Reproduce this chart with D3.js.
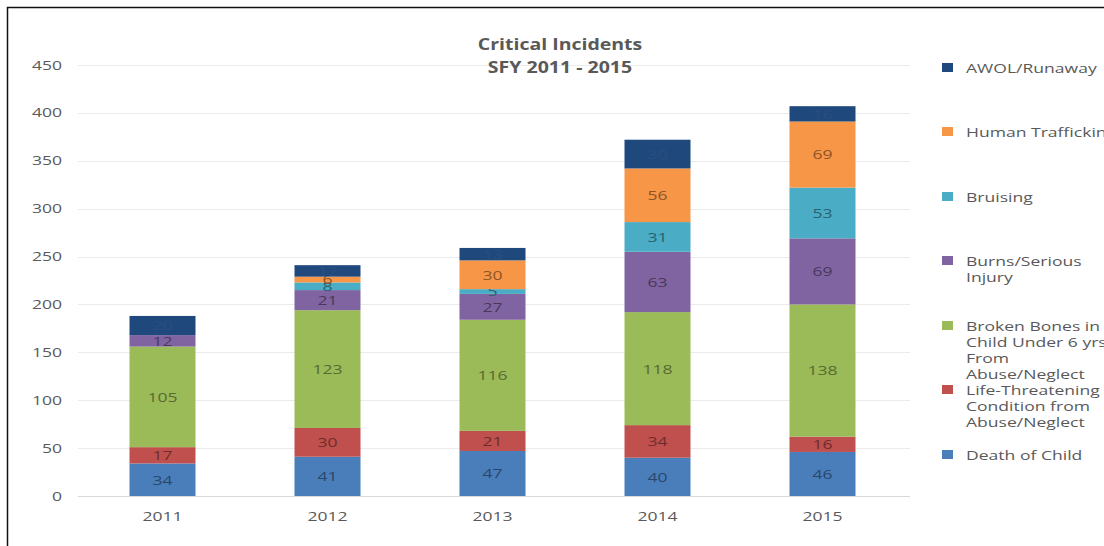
<!DOCTYPE html>
<html>
<head>
<meta charset="utf-8">
<script src="https://cdn.jsdelivr.net/npm/d3@7"></script>
<style>
  body { margin: 0; background: #fff; }
  svg { display: block; font-family: "Open Sans", sans-serif; }
</style>
</head>
<body>
<script>
// data
const years = ["2011", "2012", "2013", "2014", "2015"];
const series = ["Death of Child", "Life-Threatening Condition from Abuse/Neglect",
  "Broken Bones in Child Under 6 yrs. From Abuse/Neglect", "Burns/Serious Injury",
  "Bruising", "Human Trafficking", "AWOL/Runaway"];
const deathOfChild = [34, 41, 47, 40, 46];
const lifeThreatening = [17, 30, 21, 34, 16];
const brokenBones = [105, 123, 116, 118, 138];
const burns = [12, 21, 27, 63, 69];
const bruising = [0, 8, 5, 31, 53];
const trafficking = [0, 6, 30, 56, 69];
const awol = [20, 12, 13, 30, 16];
const yTicks = [0, 50, 100, 150, 200, 250, 300, 350, 400, 450];

// legend lines as wrapped in the original
const legendLines = [
  ["AWOL/Runaway"], ["Human Trafficking"], ["Bruising"], ["Burns/Serious", "Injury"],
  ["Broken Bones in", "Child Under 6 yrs.", "From", "Abuse/Neglect"],
  ["Life-Threatening", "Condition from", "Abuse/Neglect"], ["Death of Child"]
];
const legendY = [68, 132, 197, 261, 326, 390, 455];

const colors = ["#4a7ebb", "#c0504d", "#9bbb59", "#8064a2", "#4bacc6", "#f79646", "#1f497d"];
const values = [deathOfChild, lifeThreatening, brokenBones, burns, bruising, trafficking, awol];

const width = 1104, height = 546;
const sx = 1.35; // the original text is drawn wide
const svg = d3.select("body").append("svg").attr("width", width).attr("height", height);

// frame lines (top and left)
svg.append("line").attr("x1", 7).attr("x2", width).attr("y1", 7.5).attr("y2", 7.5)
  .attr("stroke", "#111").attr("stroke-width", 1.5);
svg.append("line").attr("x1", 7.5).attr("x2", 7.5).attr("y1", 7).attr("y2", height)
  .attr("stroke", "#111").attr("stroke-width", 1.5);

const x = d3.scaleBand().domain(years).range([80, 905]).paddingInner(0.6).paddingOuter(0.3);
const y = d3.scaleLinear().domain([0, 450]).range([496, 65]);

// gridlines
svg.append("g").selectAll("line").data(yTicks).join("line")
  .attr("x1", 78).attr("x2", 910)
  .attr("y1", d => Math.round(y(d)) + 0.5).attr("y2", d => Math.round(y(d)) + 0.5)
  .attr("stroke", d => d === 0 ? "#d9d9d9" : "#ebebeb");

// y labels
svg.append("g").selectAll("text").data(yTicks).join("text")
  .attr("transform", d => `translate(62,${y(d)}) scale(${sx},1)`).attr("dy", "0.35em")
  .attr("text-anchor", "end").attr("font-size", 13).attr("fill", "#595959")
  .text(d => d);

// x labels
svg.append("g").selectAll("text").data(years).join("text")
  .attr("transform", d => `translate(${x(d) + x.bandwidth() / 2},521) scale(${sx},1)`)
  .attr("text-anchor", "middle").attr("font-size", 13).attr("fill", "#595959")
  .text(d => d);

// stack
const rows = years.map((yr, i) => {
  const r = { year: yr };
  series.forEach((s, j) => r[s] = values[j][i]);
  return r;
});
const stacked = d3.stack().keys(series)(rows);

const layer = svg.append("g").selectAll("g").data(stacked).join("g")
  .attr("fill", (d, i) => colors[i]);

layer.selectAll("rect").data(d => d).join("rect")
  .attr("x", d => x(d.data.year))
  .attr("width", x.bandwidth())
  .attr("y", d => y(d[1]))
  .attr("height", d => y(d[0]) - y(d[1]));

layer.each(function(s, i) {
  const c = i === 6 ? "#2b4e7e" : d3.color(colors[i]).darker(1.6);
  d3.select(this).selectAll("text").data(s.filter(d => d[1] - d[0] > 0)).join("text")
    .attr("transform", d => `translate(${x(d.data.year) + x.bandwidth() / 2},${(y(d[0]) + y(d[1])) / 2}) scale(${sx},1)`)
    .attr("dy", "0.38em")
    .attr("text-anchor", "middle").attr("font-size", 13)
    .attr("fill", c)
    .text(d => d[1] - d[0]);
});

// title
svg.append("text").attr("transform", `translate(560,50) scale(1.22,1)`).attr("text-anchor", "middle")
  .attr("font-size", 16).attr("font-weight", "bold").attr("fill", "#595959")
  .text("Critical Incidents");
svg.append("text").attr("transform", `translate(560,73) scale(1.22,1)`).attr("text-anchor", "middle")
  .attr("font-size", 16).attr("font-weight", "bold").attr("fill", "#595959")
  .text("SFY 2011 - 2015");

// legend
const legColors = colors.slice().reverse();
const leg = svg.append("g").selectAll("g").data(legendLines).join("g")
  .attr("transform", (d, i) => `translate(942,${legendY[i]})`);
leg.append("rect").attr("x", 0).attr("y", -5).attr("width", 11).attr("height", 9)
  .attr("fill", (d, i) => legColors[i]);
leg.append("text").attr("font-size", 13).attr("fill", "#595959")
  .attr("transform", `translate(24,0) scale(${sx},1)`)
  .selectAll("tspan").data(d => d).join("tspan")
  .attr("x", 0).attr("y", (d, i) => i * 16).attr("dy", "0.35em")
  .text(d => d);
</script>
</body>
</html>
